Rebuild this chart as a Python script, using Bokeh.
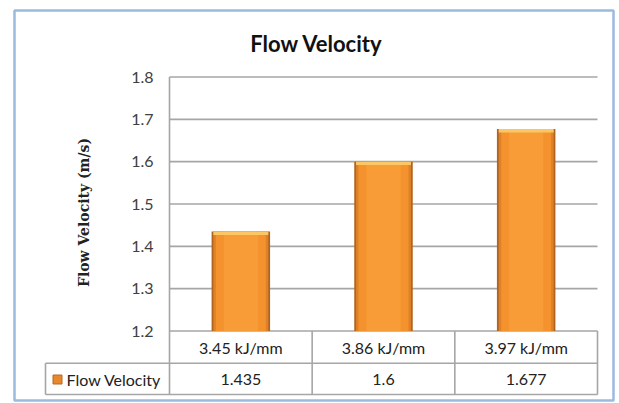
import math
from bokeh.plotting import figure
from bokeh.models import Range1d
from bokeh.core.properties import value
from bokeh.embed import file_html
from bokeh.resources import INLINE

# ---- data ----
categories = ["3.45 kJ/mm", "3.86 kJ/mm", "3.97 kJ/mm"]
velocity = [1.435, 1.6, 1.677]
value_labels = ["1.435", "1.6", "1.677"]
y_ticks = [1.2, 1.3, 1.4, 1.5, 1.6, 1.7, 1.8]
tick_labels = ["1.2", "1.3", "1.4", "1.5", "1.6", "1.7", "1.8"]
series_name = "Flow Velocity"
chart_title = "Flow Velocity"
y_title = "Flow Velocity (m/s)"

# ---- layout (pixel positions in the 619x403 page) ----
PX_X0, PX_X3 = 169, 597        # plot area left / right
PX_YMAX, PX_YMIN = 76.5, 330.5  # pixel rows of 1.8 and 1.2
YMIN, YMAX = y_ticks[0], y_ticks[-1]
NCAT = len(categories)
SX = (PX_X3 - PX_X0) / NCAT
SY = (PX_YMIN - PX_YMAX) / (YMAX - YMIN)


def X(px):
    return (px - PX_X0) / SX


def Y(py):
    return YMIN + (PX_YMIN - py) / SY


FONT = value("Lato")
GRID = "#a6a6a6"
TXT = "#404040"

p = figure(width=619, height=403,
           x_range=Range1d(X(14), X(613)), y_range=Range1d(Y(400), Y(10)),
           x_axis_type=None, y_axis_type=None, title=None,
           output_backend="svg", toolbar_location=None,
           min_border_left=14, min_border_right=6,
           min_border_top=10, min_border_bottom=3)
p.grid.visible = False
p.outline_line_color = "#9cb9de"
p.outline_line_width = 2.5
p.background_fill_color = "white"
p.border_fill_color = "white"

centers = [i + 0.5 for i in range(NCAT)]

# gridlines
p.segment(x0=[0] * len(y_ticks), x1=[NCAT] * len(y_ticks), y0=y_ticks, y1=y_ticks,
          line_color=GRID, line_width=1.6)

# table lines
row1 = Y(362.7)
row2 = Y(394)
left = X(45)
p.segment(x0=[left, left], x1=[NCAT, NCAT], y0=[row1, row2], y1=[row1, row2],
          line_color=GRID, line_width=1.6)
p.segment(x0=[0], x1=[0], y0=[YMAX], y1=[row2], line_color=GRID, line_width=1.6)
p.segment(x0=[left], x1=[left], y0=[row1], y1=[row2], line_color=GRID, line_width=1.6)
p.segment(x0=list(range(1, NCAT + 1)), x1=list(range(1, NCAT + 1)),
          y0=[YMIN] * NCAT, y1=[row2] * NCAT, line_color=GRID, line_width=1.6)

# bars with a bevelled look
bottoms = [YMIN] * NCAT
p.vbar(x=centers, top=velocity, bottom=bottoms, width=0.41, fill_color="#b0641e", line_color=None)
p.vbar(x=centers, top=velocity, bottom=bottoms, width=0.385, fill_color="#de8129", line_color=None)
p.vbar(x=centers, top=velocity, bottom=bottoms, width=0.35, fill_color="#f4922d", line_color=None)
p.vbar(x=centers, top=velocity, bottom=bottoms, width=0.24, fill_color="#f89c38", line_color=None)
p.vbar(x=centers, top=velocity, bottom=[v - 0.008 for v in velocity], width=0.385,
       fill_color="#fbc765", line_color=None)

# title
p.text(x=[X(316)], y=[Y(43)], text=[chart_title], text_font=FONT, text_font_style="bold",
       text_font_size="22px", text_align="center", text_baseline="middle", text_color="#111111")

# y tick labels
p.text(x=[X(153)] * len(y_ticks), y=y_ticks, text=tick_labels, text_font=FONT,
       text_font_size="16px", text_align="right", text_baseline="middle", text_color=TXT)

# y axis title
p.text(x=[X(83)], y=[Y(212)], text=[y_title], angle=math.pi / 2, text_font=value("DejaVu Serif"),
       text_font_style="bold", text_font_size="14px", text_align="center",
       text_baseline="middle", text_color="#222222")

# table contents
p.text(x=centers, y=[Y(347)] * NCAT, text=categories, text_font=FONT, text_font_size="16px",
       text_align="center", text_baseline="middle", text_color="#222222")
p.text(x=centers, y=[Y(379)] * NCAT, text=value_labels, text_font=FONT, text_font_size="16px",
       text_align="center", text_baseline="middle", text_color="#222222")

# legend key + label
p.rect(x=[X(57)], y=[Y(379)], width=9, height=9, width_units="screen", height_units="screen",
       fill_color="#e8872b", line_color="#b8691f", line_width=1)
p.text(x=[X(66)], y=[Y(379)], text=[series_name], text_font=FONT, text_font_size="16px",
       text_align="left", text_baseline="middle", text_color="#222222")

open("out.html", "w").write(file_html(p, INLINE))
